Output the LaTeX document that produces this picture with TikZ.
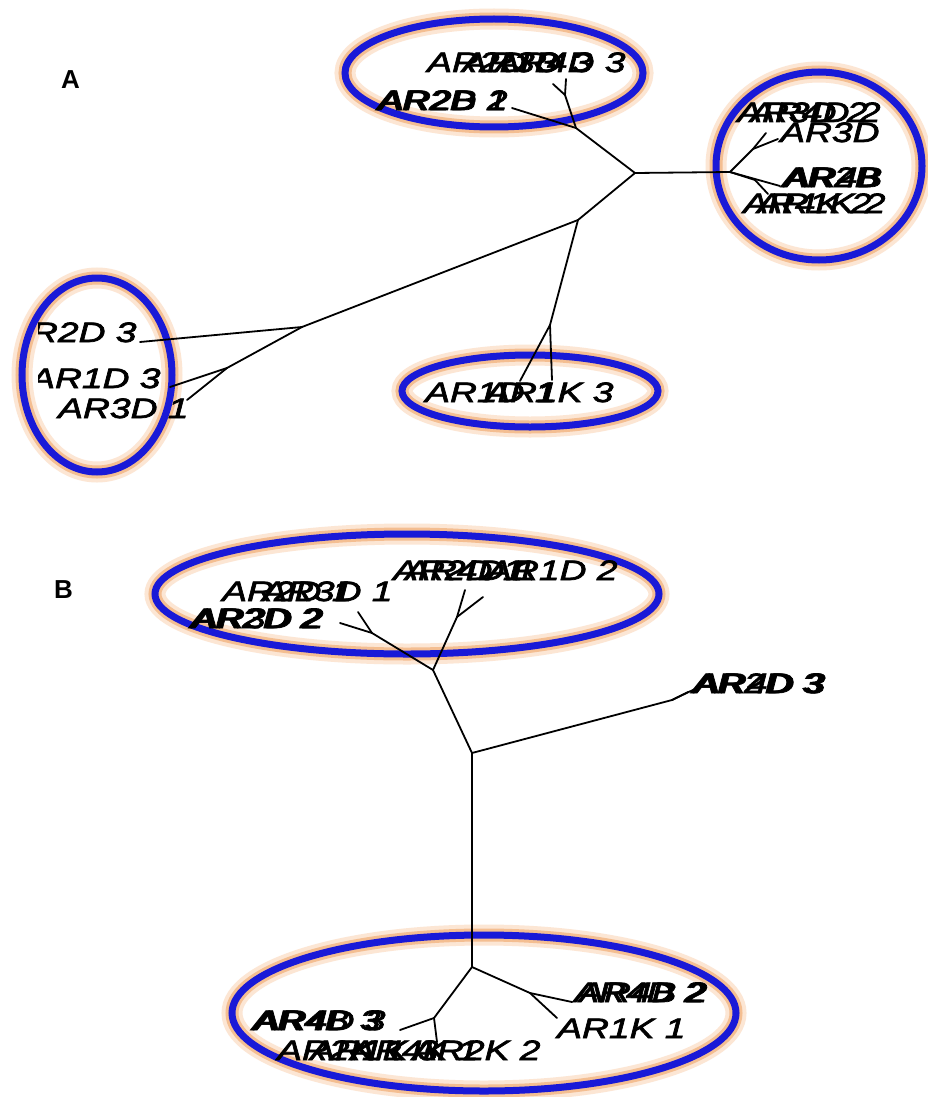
\documentclass[tikz,border=0pt]{standalone}
\usepackage{fontspec}
\newfontfamily\labfont[FakeStretch=1.33,FakeBold=2.5]{Liberation Sans}
\newfontfamily\panelfont{Liberation Sans}
\definecolor{ringblue}{RGB}{25,25,215}
\definecolor{glowA}{RGB}{252,230,212}
\definecolor{glowB}{RGB}{244,190,145}
\begin{document}
\begin{tikzpicture}[x=1pt,y=-1pt,
  branch/.style={draw=black,line width=1.8pt,line cap=round,line join=round},
  taxon/.style={anchor=base west,inner sep=0pt,font=\labfont\itshape\fontsize{28}{28}\selectfont},
  panel/.style={anchor=base west,inner sep=0pt,font=\panelfont\bfseries\fontsize{26}{26}\selectfont},
  ring/.style={preaction={draw=glowA,line width=21pt},preaction={draw=glowB,line width=13pt},draw=ringblue,line width=7pt}]
\useasboundingbox (0,0) rectangle (928,1097);
\fill[white] (0,0) rectangle (928,1097);

% ---------------- rings (behind tree and labels) ----------------
\draw[ring] (494,73) ellipse [x radius=149, y radius=54];
\draw[ring] (819,166) ellipse [x radius=103, y radius=94];
\draw[ring] (97,375) ellipse [x radius=75, y radius=97];
\draw[ring] (530,391) ellipse [x radius=128, y radius=36];
\draw[ring] (407,594) ellipse [x radius=252, y radius=60];
\draw[ring] (484,1013) ellipse [x radius=252, y radius=78];

% ---------------- Panel A ----------------
\node[panel] (pA) at (61,89) {A};
\coordinate (C) at (635,173);
\coordinate (RA) at (730,172);
\coordinate (RA2) at (753,149);
\coordinate (RA3) at (755,180);
\coordinate (JA1) at (576,128);
\coordinate (JA2) at (565,95);
\coordinate (JA3) at (578,220);
\coordinate (JA4) at (302,327);
\coordinate (JA5) at (550,325);
\coordinate (JA6) at (227,368);
\coordinate (a1) at (512,108);
\coordinate (a2) at (566,79);
\coordinate (a3) at (553,84);
\coordinate (a4) at (766,133);
\coordinate (a5) at (778,139);
\coordinate (a6) at (780,186);
\coordinate (a7) at (768,194);
\coordinate (a8) at (520,381);
\coordinate (a9) at (552,380);
\coordinate (a10) at (140,342);
\coordinate (a11) at (170,387);
\coordinate (a12) at (187,400);

\draw[branch] (C) -- (RA);
\draw[branch] (RA) -- (RA2);
\draw[branch] (RA2) -- (a4);
\draw[branch] (RA2) -- (a5);
\draw[branch] (RA) -- (a6);
\draw[branch] (RA) -- (RA3);
\draw[branch] (RA3) -- (a7);
\draw[branch] (C) -- (JA1);
\draw[branch] (JA1) -- (a1);
\draw[branch] (JA1) -- (JA2);
\draw[branch] (JA2) -- (a2);
\draw[branch] (JA2) -- (a3);
\draw[branch] (C) -- (JA3);
\draw[branch] (JA3) -- (JA5);
\draw[branch] (JA5) -- (a8);
\draw[branch] (JA5) -- (a9);
\draw[branch] (JA3) -- (JA4);
\draw[branch] (JA4) -- (a10);
\draw[branch] (JA4) -- (JA6);
\draw[branch] (JA6) -- (a11);
\draw[branch] (JA6) -- (a12);

\begin{scope}
\clip (38,0) rectangle (886,480);
\node[taxon] (tA1) at (427,72) {AR2D 3};
\node[taxon] (tA2) at (462,72) {AR3D 3};
\node[taxon] (tA3) at (495,72) {AR4D 3};
\node[taxon] (tA4) at (377,110) {AR2D 2};
\node[taxon] (tA5) at (379,110) {AR2B 1};
\node[taxon] (tA6) at (737,122) {AR3D 2};
\node[taxon] (tA7) at (750,122) {AR4D 2};
\node[taxon] (tA8) at (780,142) {AR3D 1};
\node[taxon] (tA9) at (782,187) {AR2B 3};
\node[taxon] (tA10) at (785,187) {AR4B 1};
\node[taxon] (tA11) at (743,213) {AR4K 2};
\node[taxon] (tA12) at (757,213) {AR1K 2};
\node[taxon] (tA13) at (425,402) {AR1D 1};
\node[taxon] (tA14) at (485,402) {AR1K 3};
\node[taxon] (tA15) at (6,342) {AR2D 3};
\node[taxon] (tA16) at (30,388) {AR1D 3};
\node[taxon] (tA17) at (58,418) {AR3D 1};
\end{scope}

% ---------------- Panel B ----------------
\node[panel] (pB) at (54,598) {B};
\coordinate (MB) at (472,753);
\coordinate (JB1) at (433,670);
\coordinate (JBa) at (372,633);
\coordinate (JBb) at (457,617);
\coordinate (JBc) at (672,700);
\coordinate (JB2) at (472,967);
\coordinate (JBd) at (530,993);
\coordinate (JBe) at (434,1018);
\coordinate (b1) at (340,623);
\coordinate (b2) at (358,612);
\coordinate (b3) at (465,590);
\coordinate (b4) at (483,597);
\coordinate (b5) at (688,692);
\coordinate (b6) at (697,688);
\coordinate (b7) at (572,1002);
\coordinate (b8) at (557,1018);
\coordinate (b9) at (437,1042);
\coordinate (b10) at (400,1030);

\draw[branch] (MB) -- (JB1);
\draw[branch] (JB1) -- (JBa);
\draw[branch] (JBa) -- (b1);
\draw[branch] (JBa) -- (b2);
\draw[branch] (JB1) -- (JBb);
\draw[branch] (JBb) -- (b3);
\draw[branch] (JBb) -- (b4);
\draw[branch] (MB) -- (JBc);
\draw[branch] (JBc) -- (b5);
\draw[branch] (JBc) -- (b6);
\draw[branch] (MB) -- (JB2);
\draw[branch] (JB2) -- (JBd);
\draw[branch] (JBd) -- (b7);
\draw[branch] (JBd) -- (b8);
\draw[branch] (JB2) -- (JBe);
\draw[branch] (JBe) -- (b9);
\draw[branch] (JBe) -- (b10);

\node[taxon] (tB1) at (393,580) {AR2D 1};
\node[taxon] (tB2) at (405,580) {AR4D 1};
\node[taxon] (tB3) at (487,580) {AR1D 2};
\node[taxon] (tB4) at (222,601) {AR2D 1};
\node[taxon] (tB5) at (262,601) {AR3D 1};
\node[taxon] (tB6) at (190,628) {AR2D 2};
\node[taxon] (tB7) at (193,628) {AR3D 2};
\node[taxon] (tB8) at (692,693) {AR2D 3};
\node[taxon] (tB9) at (695,693) {AR4D 3};
\node[taxon] (tB10) at (252,1030) {AR4B 3};
\node[taxon] (tB11) at (255,1030) {AR4D 3};
\node[taxon] (tB12) at (277,1060) {AR2K 1};
\node[taxon] (tB13) at (310,1060) {AR1K 3};
\node[taxon] (tB14) at (350,1060) {AR4K 1};
\node[taxon] (tB15) at (412,1060) {AR2K 2};
\node[taxon] (tB16) at (574,1002) {AR4D 2};
\node[taxon] (tB17) at (579,1002) {AR4B 2};
\node[taxon] (tB18) at (557,1038) {AR1K 1};
\end{tikzpicture}
\end{document}
